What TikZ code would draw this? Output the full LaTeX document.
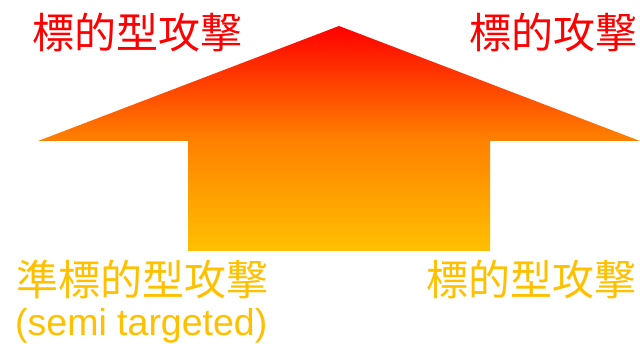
\documentclass[tikz,border=0pt]{standalone}
\usepackage{fontspec}
\setmainfont{Liberation Sans}
\newfontfamily\jpfont{Noto Sans CJK JP}
\definecolor{toptext}{RGB}{255,0,0}
\definecolor{bottext}{RGB}{255,192,0}
\definecolor{midorange}{RGB}{255,128,0}
\pgfdeclareverticalshading{arrowshade}{100bp}{
  color(0bp)=(bottext);
  color(25bp)=(bottext);
  color(50bp)=(midorange);
  color(75bp)=(red);
  color(100bp)=(red)}
\tikzset{
  jplabel/.style={inner sep=0pt, font=\jpfont\fontsize{42}{46}\selectfont},
  toplabel/.style={jplabel, text=toptext},
  botlabel/.style={jplabel, text=bottext},
  enlabel/.style={inner sep=0pt, text=bottext, font=\fontsize{37.5}{41}\selectfont}
}
\begin{document}
\begin{tikzpicture}[x=1pt,y=-1pt]
\useasboundingbox (0,0) rectangle (640,344);
\path[shading=arrowshade] (339,26) -- (640,141) -- (490,141) -- (490,251)
  -- (188,251) -- (188,141) -- (38,141) -- cycle;
\node[toplabel, anchor=west] (tl) at (32,33) {標的型攻撃};
\node[toplabel, anchor=east] (tr) at (638,33) {標的攻撃};
\node[botlabel, anchor=west] (bl) at (16,279) {準標的型攻撃};
\node[enlabel, anchor=west] (bl2) at (15,326) {(semi targeted)};
\node[botlabel, anchor=east] (br) at (637,279) {標的型攻撃};
\end{tikzpicture}
\end{document}
